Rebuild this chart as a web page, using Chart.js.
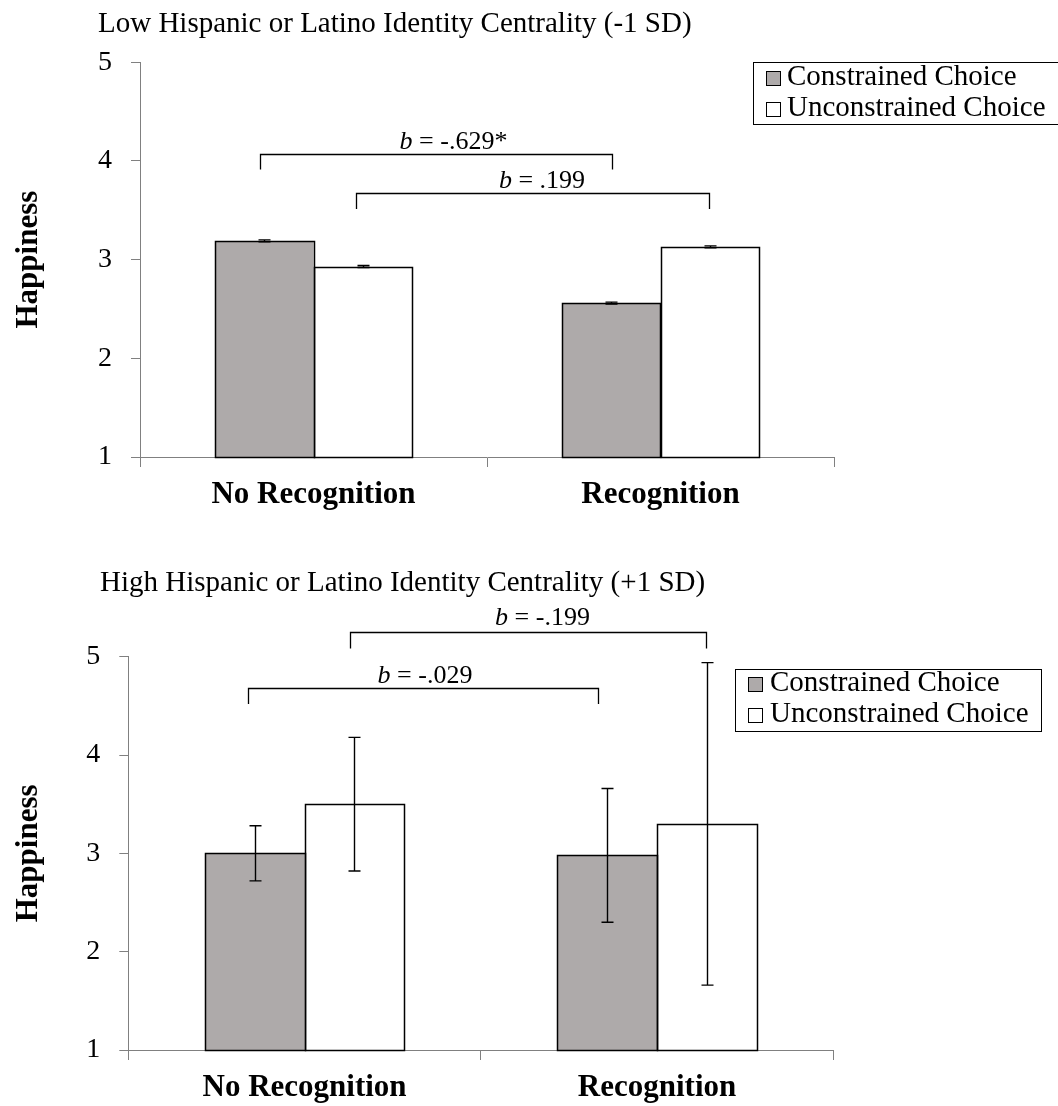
<!DOCTYPE html>
<html>
<head>
<meta charset="utf-8">
<script src="https://cdn.jsdelivr.net/npm/chart.js@4.4.1/dist/chart.umd.min.js"></script>
<style>
html,body{margin:0;padding:0;background:#fff;}
#wrap{position:relative;width:1058px;height:1106px;overflow:hidden;background:#fff;}
.box{position:absolute;left:0;}
canvas{display:block;}
</style>
</head>
<body>
<div id="wrap">
  <div class="box" style="top:0px;"><canvas id="c1" width="1058" height="540"></canvas></div>
  <div class="box" style="top:540px;"><canvas id="c2" width="1058" height="566"></canvas></div>
</div>
<script>
// ---------- data ----------
const categories = ['No Recognition', 'Recognition'];
const seriesNames = ['Constrained Choice', 'Unconstrained Choice'];
const yTicks = [1, 2, 3, 4, 5];
const yAxisLabel = 'Happiness';

const lowTitle = 'Low Hispanic or Latino Identity Centrality (-1 SD)';
const lowConstrained = [3.19, 2.56];
const lowUnconstrained = [2.93, 3.13];
const lowConstrainedErr = [0.01, 0.01];
const lowUnconstrainedErr = [0.01, 0.01];
const lowComparisonSeries = [0, 1];
const lowComparisonLabels = ['-.629*', '.199'];

const highTitle = 'High Hispanic or Latino Identity Centrality (+1 SD)';
const highConstrained = [3.00, 2.98];
const highUnconstrained = [3.50, 3.30];
const highConstrainedErr = [0.28, 0.68];
const highUnconstrainedErr = [0.68, 1.64];
const highComparisonSeries = [0, 1];
const highComparisonLabels = ['-.029', '-.199'];

// ---------- styling ----------
const FONT = 'Liberation Serif';
const GRAY = '#AEAAAA';
const AXIS = '#808080';

const overlayPlugin = {
  id: 'overlay',
  afterDatasetsDraw(chart, args, o) {
    const ctx = chart.ctx, ys = chart.scales.y, a = chart.chartArea;
    ctx.save();
    ctx.strokeStyle = '#000';
    // crisp bar outlines (shared edges drawn once)
    ctx.lineWidth = 1.5;
    chart.data.datasets.forEach((ds, di) => {
      chart.getDatasetMeta(di).data.forEach((bar) => {
        const l = Math.round(bar.x - bar.width / 2) + 0.5;
        const r = Math.round(bar.x + bar.width / 2) + 0.5;
        const t = Math.round(bar.y) + 0.5;
        const b = Math.round(Math.min(bar.base, a.bottom)) + 0.5;
        ctx.strokeRect(l, t, r - l, b - t);
      });
    });
    // error bars
    ctx.lineWidth = 1.4;
    chart.data.datasets.forEach((ds, di) => {
      chart.getDatasetMeta(di).data.forEach((bar, i) => {
        const v = ds.data[i], e = ds.errors[i];
        const x = Math.round(bar.x) + 0.5;
        const t = ys.getPixelForValue(v + e), b = ys.getPixelForValue(v - e);
        ctx.beginPath();
        ctx.moveTo(x, t); ctx.lineTo(x, b);
        ctx.moveTo(x - 6, t); ctx.lineTo(x + 6, t);
        ctx.moveTo(x - 6, b); ctx.lineTo(x + 6, b);
        ctx.stroke();
      });
    });
    ctx.restore();
  },
  afterDraw(chart, args, o) {
    const ctx = chart.ctx, ys = chart.scales.y, a = chart.chartArea;
    ctx.save();
    ctx.fillStyle = '#000';
    ctx.textAlign = 'left';
    ctx.textBaseline = 'alphabetic';
    // title
    ctx.font = `${o.titleSize}px "${FONT}"`;
    ctx.fillText(o.title, o.titleX, o.titleY);
    // comparison brackets
    o.comparisonSeries.forEach((s, k) => {
      const L = o.bracketLayout[k];
      const m = chart.getDatasetMeta(s).data;
      const x0 = Math.round(m[0].x + L.dx0) + 0.5, x1 = Math.round(m[1].x + L.dx1) + 0.5;
      const y = Math.round(ys.getPixelForValue(L.level)) + 0.5;
      ctx.strokeStyle = '#000';
      ctx.lineWidth = 1.3;
      ctx.beginPath();
      ctx.moveTo(x0, y + L.leg); ctx.lineTo(x0, y); ctx.lineTo(x1, y); ctx.lineTo(x1, y + L.leg);
      ctx.stroke();
      const fi = `italic ${o.annSize}px "${FONT}"`, fr = `${o.annSize}px "${FONT}"`;
      ctx.font = fi; const wb = ctx.measureText('b').width;
      const rest = ' = ' + o.comparisonLabels[k];
      ctx.font = fr; const wr = ctx.measureText(rest).width;
      const cx = (x0 + x1) / 2 + L.textDx;
      const sx = cx - (wb + wr) / 2;
      const ty = y - L.textGap;
      ctx.font = fi; ctx.fillText('b', sx, ty);
      ctx.font = fr; ctx.fillText(rest, sx + wb, ty);
    });
    // legend
    const lg = o.legend;
    ctx.font = `${o.legendSize}px "${FONT}"`;
    const tw = Math.max(...chart.data.datasets.map(d => ctx.measureText(d.label).width));
    const bx = Math.round(a.right + lg.dx), by = Math.round(a.top + lg.dy);
    const bw = Math.round(lg.textX + tw + lg.padR);
    ctx.lineWidth = 1;
    ctx.strokeStyle = '#000';
    ctx.strokeRect(bx + 0.5, by + 0.5, bw, lg.h);
    chart.data.datasets.forEach((d, i) => {
      const cy = by + lg.row0 + i * lg.rowGap;
      const sy = Math.round(cy - 7);
      ctx.fillStyle = d.backgroundColor;
      ctx.fillRect(bx + lg.swX, sy, 14, 14);
      ctx.strokeStyle = '#000';
      ctx.strokeRect(bx + lg.swX + 0.5, sy + 0.5, 14, 14);
      ctx.fillStyle = '#000';
      ctx.textBaseline = 'middle';
      ctx.fillText(d.label, bx + lg.textX, cy);
    });
    ctx.restore();
  }
};

function buildChart(id, spec) {
  const datasets = [
    { label: seriesNames[0], data: spec.constrained, errors: spec.constrainedErr,
      backgroundColor: GRAY, borderWidth: 0 },
    { label: seriesNames[1], data: spec.unconstrained, errors: spec.unconstrainedErr,
      backgroundColor: '#FFFFFF', borderWidth: 0 }
  ];
  return new Chart(document.getElementById(id), {
    type: 'bar',
    data: { labels: categories, datasets },
    options: {
      responsive: false,
      devicePixelRatio: 1,
      animation: false,
      events: [],
      layout: { padding: { top: spec.padTop, right: spec.padRight, left: 0, bottom: 0 } },
      datasets: { bar: { barPercentage: 1, categoryPercentage: 0.565 } },
      plugins: {
        legend: { display: false },
        title: { display: false },
        tooltip: { enabled: false },
        overlay: {
          title: spec.title, titleX: spec.titleX, titleY: spec.titleY, titleSize: 29,
          annSize: 26, legendSize: 29,
          comparisonSeries: spec.comparisonSeries,
          comparisonLabels: spec.comparisonLabels,
          bracketLayout: spec.bracketLayout,
          legend: spec.legend
        }
      },
      scales: {
        x: {
          afterFit(s) { s.height = spec.xHeight; },
          ticks: { color: '#000', padding: 9, font: { family: FONT, size: 31, weight: 'bold' } },
          grid: { drawOnChartArea: false, drawTicks: true, tickLength: 10, color: AXIS, offset: true },
          border: { display: true, color: AXIS, width: 1 }
        },
        y: {
          min: 1, max: 5,
          afterFit(s) { s.width = spec.yWidth; },
          afterBuildTicks(s) { s.ticks = yTicks.map(v => ({ value: v })); },
          ticks: { color: '#000', padding: 19, font: { family: FONT, size: 28 } },
          grid: { drawOnChartArea: false, drawTicks: true, tickLength: 9, color: AXIS },
          border: { display: true, color: AXIS, width: 1 },
          title: { display: true, text: yAxisLabel, color: '#000', padding: { top: 10, bottom: 0 },
                   font: { family: FONT, size: 31, weight: 'bold' } }
        }
      }
    },
    plugins: [overlayPlugin]
  });
}

buildChart('c1', {
  title: lowTitle, titleX: 98, titleY: 32,
  constrained: lowConstrained, unconstrained: lowUnconstrained,
  constrainedErr: lowConstrainedErr, unconstrainedErr: lowUnconstrainedErr,
  comparisonSeries: lowComparisonSeries, comparisonLabels: lowComparisonLabels,
  bracketLayout: [
    { level: 4.074, leg: 15, dx0: -4, dx1: 1, textDx: 17, textGap: 6 },
    { level: 3.672, leg: 15.5, dx0: -7, dx1: -1, textDx: 9, textGap: 5.5 }
  ],
  legend: { dx: -81, dy: 0, h: 62, swX: 13, textX: 34, padR: 12, row0: 15.5, rowGap: 31 },
  padTop: 62.3, padRight: 224, yWidth: 140, xHeight: 83
});

buildChart('c2', {
  title: highTitle, titleX: 100, titleY: 51,
  constrained: highConstrained, unconstrained: highUnconstrained,
  constrainedErr: highConstrainedErr, unconstrainedErr: highUnconstrainedErr,
  comparisonSeries: highComparisonSeries, comparisonLabels: highComparisonLabels,
  bracketLayout: [
    { level: 4.685, leg: 15.5, dx0: -7, dx1: -9.5, textDx: 1.5, textGap: 6 },
    { level: 5.248, leg: 16, dx0: -4.3, dx1: -0.4, textDx: 14, textGap: 7.3 }
  ],
  legend: { dx: -98, dy: 12.6, h: 62, swX: 13, textX: 35, padR: 12, row0: 14.5, rowGap: 31 },
  padTop: 116.7, padRight: 224.7, yWidth: 128.3, xHeight: 56
});
</script>
</body>
</html>
